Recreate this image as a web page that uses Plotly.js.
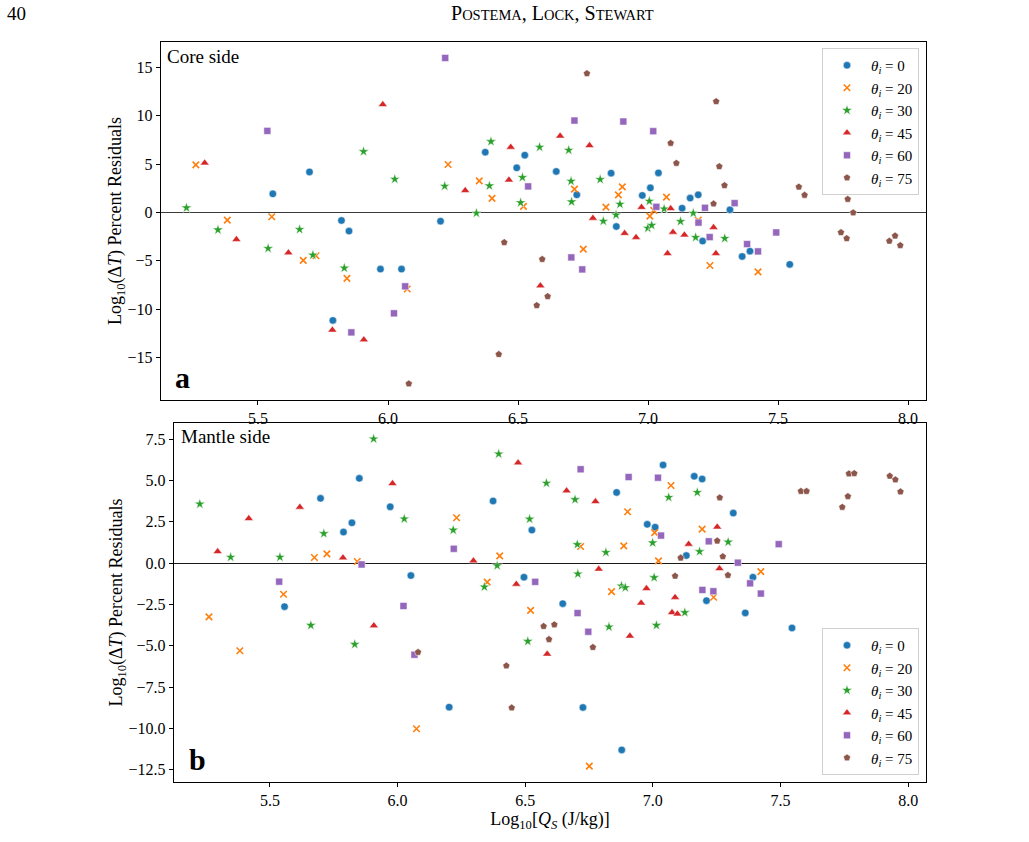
<!DOCTYPE html>
<html>
<head>
<meta charset="utf-8">
<script src="https://cdn.plot.ly/plotly-3.0.1.min.js"></script>
<style>
  html, body { margin: 0; padding: 0; background: #fff; }
  #chart { width: 1029px; height: 842px; }
  /* keep every tick label in the serif face */
  #chart g.xtick text, #chart g.ytick text, #chart g.x2tick text, #chart g.y2tick text {
    font-family: 'Liberation Serif', serif !important;
  }
</style>
</head>
<body>
<div id="chart"></div>
<script>
// Log10 specific energy Q_S for each impact angle (shared by both panels)
const qs0  = [5.557, 5.698, 5.788, 5.821, 5.850, 5.971, 6.052, 6.202, 6.374, 6.495, 6.526, 6.647, 6.726, 6.858, 6.878, 6.978, 7.009, 7.040, 7.131, 7.162, 7.193, 7.210, 7.315, 7.362, 7.392, 7.545];
const qs20 = [5.261, 5.382, 5.553, 5.674, 5.723, 5.842, 6.074, 6.231, 6.351, 6.400, 6.521, 6.717, 6.751, 6.838, 6.886, 6.901, 7.007, 7.022, 7.071, 7.193, 7.238, 7.423];
const qs30 = [5.225, 5.346, 5.539, 5.660, 5.711, 5.832, 5.906, 6.026, 6.218, 6.340, 6.390, 6.396, 6.510, 6.517, 6.583, 6.695, 6.704, 6.706, 6.816, 6.828, 6.877, 6.892, 6.999, 7.005, 7.014, 7.062, 7.125, 7.174, 7.183, 7.295];
const qs45 = [5.295, 5.417, 5.617, 5.786, 5.907, 5.980, 6.297, 6.465, 6.472, 6.586, 6.662, 6.775, 6.788, 6.910, 6.954, 6.975, 7.075, 7.087, 7.096, 7.140, 7.252, 7.261];
const qs60 = [5.536, 5.859, 6.023, 6.066, 6.220, 6.539, 6.705, 6.717, 6.747, 6.905, 7.020, 7.032, 7.194, 7.219, 7.237, 7.333, 7.381, 7.423, 7.493];
const qs75 = [6.080, 6.426, 6.447, 6.572, 6.593, 6.614, 6.765, 7.087, 7.109, 7.252, 7.262, 7.274, 7.294, 7.580, 7.602, 7.742, 7.764, 7.768, 7.789, 7.928, 7.950, 7.970];

// Core-side percent residuals
const core0  = [1.92, 4.19, -11.16, -0.83, -1.93, -5.86, -5.86, -0.90, 6.23, 4.61, 5.92, 4.24, 1.82, 4.06, -1.45, 1.76, 2.54, 4.09, 0.44, 1.48, 1.82, -2.96, 0.27, -4.55, -4.00, -5.37];
const core20 = [4.92, -0.80, -0.45, -4.96, -4.48, -6.82, -7.92, 4.96, 3.26, 1.45, 0.62, 2.41, -3.79, 0.55, 1.82, 2.64, -0.38, 0.21, 1.58, -0.80, -5.48, -6.14];
const core30 = [0.48, -1.80, -3.72, -1.76, -4.41, -5.75, 6.30, 3.44, 2.72, -0.07, 2.75, 7.33, 1.01, 3.62, 6.75, 6.44, 3.23, 1.10, 3.41, -0.90, -0.26, 0.86, -1.62, 1.17, -1.33, 0.37, -0.93, -0.07, -2.58, -2.68];
const core45 = [5.12, -2.79, -4.17, -12.16, -13.16, 11.16, 2.27, 3.36, 6.75, -7.58, 7.90, 6.92, -0.59, -2.16, -2.58, 0.53, -4.24, 0.40, -2.04, -2.32, -1.55, -4.24];
const core60 = [8.43, -12.40, -10.43, -7.64, 15.97, 2.69, -4.65, 9.50, -5.89, 9.40, 8.40, 0.58, -1.05, 0.48, -2.55, 0.96, -3.27, -4.03, -2.07];
const core75 = [-17.71, -14.67, -3.10, -9.61, -4.84, -8.68, 14.36, 7.16, 5.09, 0.89, 11.47, 4.75, 2.79, 2.64, 1.79, -2.07, -2.69, 1.37, -0.02, -2.96, -2.42, -3.41];

// Mantle-side percent residuals
const mantle0  = [-2.63, 3.92, 1.88, 2.44, 5.13, 3.41, -0.75, -8.71, 3.76, -0.85, 2.00, -2.45, -8.73, 4.28, -11.30, 2.35, 2.18, 5.94, 0.46, 5.26, 5.09, -2.27, 3.03, -3.01, -0.85, -3.92];
const mantle20 = [-3.25, -5.30, -1.88, 0.34, 0.56, 0.10, -10.02, 2.75, -1.15, 0.44, -2.86, 1.01, -12.28, -1.72, 1.05, 3.11, 1.85, 0.14, 4.70, 2.06, -2.06, -0.51];
const mantle30 = [3.58, 0.36, 0.36, -3.76, 1.79, -4.91, 7.52, 2.68, 2.00, -1.44, -0.15, 6.61, -4.73, 2.67, 4.84, 3.85, 1.13, -0.65, 0.65, -3.86, -1.38, -1.48, 1.23, -0.87, -3.76, 3.98, -2.99, 4.28, 0.70, 1.28];
const mantle45 = [0.70, 2.70, 3.39, 0.32, -3.78, 4.82, 0.14, -1.27, 6.07, -5.50, 4.38, 3.73, -0.36, -4.41, -2.41, -1.53, -2.99, -2.07, -3.07, 1.15, 2.19, -0.33];
const mantle60 = [-1.12, -0.08, -2.59, -5.54, 0.87, -1.13, -3.02, 5.68, -4.15, 5.21, 5.17, 1.67, -1.62, 1.32, -1.70, 0.03, -1.22, -1.84, 1.15];
const mantle75 = [-5.39, -6.21, -8.75, -3.82, -4.61, -3.72, -5.09, -0.78, 0.32, 1.35, 3.96, 0.40, -0.73, 4.35, 4.35, 3.39, 4.04, 5.41, 5.43, 5.27, 5.05, 4.32];

const angles = [0, 20, 30, 45, 60, 75];
const qsByAngle = [qs0, qs20, qs30, qs45, qs60, qs75];
const coreByAngle = [core0, core20, core30, core45, core60, core75];
const mantleByAngle = [mantle0, mantle20, mantle30, mantle45, mantle60, mantle75];

const tickVals = [5.5, 6.0, 6.5, 7.0, 7.5, 8.0];
const tickText = ['5.5', '6.0', '6.5', '7.0', '7.5', '8.0'];
const coreTickVals = [-15, -10, -5, 0, 5, 10, 15];
const mantleTickVals = [-12.5, -10, -7.5, -5, -2.5, 0, 2.5, 5, 7.5];

const colors  = ['#1f77b4', '#ff7f0e', '#2ca02c', '#d62728', '#9467bd', '#8c564b'];
const symbols = ['circle', 'x-thin', 'star', 'triangle-up', 'square', 'pentagon'];
const sizes   = [7.5, 6.5, 8, 8, 7, 7.5];

const W = 1029, H = 842;
const fx = px => px / W;
const fy = py => 1 - py / H;

const SERIF = 'Liberation Serif';

function markerFor(i) {
  if (symbols[i] === 'x-thin') {
    return { symbol: symbols[i], size: sizes[i], color: colors[i], line: { color: colors[i], width: 1.6 } };
  }
  return { symbol: symbols[i], size: sizes[i], color: colors[i], line: { color: 'rgba(255,255,255,0.85)', width: 0.6 } };
}

const traces = [];
angles.forEach((a, i) => {
  traces.push({
    type: 'scatter', mode: 'markers', name: '<i>θ</i><sub><i>i</i></sub> = ' + a,
    x: qsByAngle[i], y: coreByAngle[i],
    xaxis: 'x', yaxis: 'y', legend: 'legend',
    marker: markerFor(i)
  });
});
angles.forEach((a, i) => {
  traces.push({
    type: 'scatter', mode: 'markers', name: '<i>θ</i><sub><i>i</i></sub> = ' + a,
    x: qsByAngle[i], y: mantleByAngle[i],
    xaxis: 'x2', yaxis: 'y2', legend: 'legend2',
    marker: markerFor(i)
  });
});

function axisBase() {
  return {
    showline: true, mirror: true, linecolor: '#000', linewidth: 1.2,
    ticks: 'outside', ticklen: 4, tickwidth: 1, tickcolor: '#000',
    showgrid: false, zeroline: false,
    tickfont: { family: SERIF, size: 16, color: '#000' }
  };
}

const yTitle = 'Log<sub>10</sub>(Δ<i>T</i>) Percent Residuals';

function legendBase() {
  return {
    font: { family: SERIF, size: 15, color: '#000' },
    bgcolor: 'rgba(255,255,255,0.85)', bordercolor: '#d0d0d0', borderwidth: 1,
    xanchor: 'right', tracegroupgap: 0, itemwidth: 38
  };
}

const layout = {
  width: W, height: H,
  margin: { l: 0, r: 0, t: 0, b: 0 },
  paper_bgcolor: '#fff', plot_bgcolor: '#fff',
  font: { family: SERIF, color: '#000', size: 16 },
  showlegend: true,
  xaxis: Object.assign(axisBase(), {
    domain: [fx(161), fx(926)], anchor: 'y',
    range: [5.127, 8.069], tickvals: tickVals, ticktext: tickText
  }),
  yaxis: Object.assign(axisBase(), {
    domain: [fy(400), fy(42)], anchor: 'x',
    range: [-19.39, 17.62], tickvals: coreTickVals,
    zeroline: true, zerolinecolor: '#3c3c3c', zerolinewidth: 1.2,
    title: { text: yTitle, font: { family: SERIF, size: 18, color: '#000' }, standoff: 1 }
  }),
  xaxis2: Object.assign(axisBase(), {
    domain: [fx(174), fx(926)], anchor: 'y2',
    range: [5.124, 8.07], tickvals: tickVals, ticktext: tickText,
    title: { text: 'Log<sub>10</sub>[<i>Q<sub>S</sub></i> (J/kg)]', font: { family: SERIF, size: 18, color: '#000' }, standoff: 1 }
  }),
  yaxis2: Object.assign(axisBase(), {
    domain: [fy(782), fy(423)], anchor: 'x2',
    range: [-13.24, 8.48], tickvals: mantleTickVals, tickformat: '.1f',
    zeroline: true, zerolinecolor: '#1a1a1a', zerolinewidth: 1.2,
    title: { text: yTitle, font: { family: SERIF, size: 18, color: '#000' }, standoff: 1 }
  }),
  legend: Object.assign(legendBase(), { x: fx(919), y: fy(48), yanchor: 'top' }),
  legend2: Object.assign(legendBase(), { x: fx(919), y: fy(775), yanchor: 'bottom' }),
  annotations: [
    { text: '40', xref: 'paper', yref: 'paper', x: fx(5), y: fy(13), xanchor: 'left', yanchor: 'middle',
      showarrow: false, font: { family: SERIF, size: 19, color: '#000' } },
    { text: 'P<span style="font-size:14.5px">OSTEMA</span>, L<span style="font-size:14.5px">OCK</span>, S<span style="font-size:14.5px">TEWART</span>',
      xref: 'paper', yref: 'paper', x: fx(552), y: fy(13), xanchor: 'center', yanchor: 'middle',
      showarrow: false, font: { family: SERIF, size: 20, color: '#000' } },
    { text: 'Core side', xref: 'paper', yref: 'paper', x: fx(165), y: fy(56), xanchor: 'left', yanchor: 'middle',
      showarrow: false, font: { family: SERIF, size: 19, color: '#000' } },
    { text: '<b>a</b>', xref: 'paper', yref: 'paper', x: fx(173), y: fy(378), xanchor: 'left', yanchor: 'middle',
      showarrow: false, font: { family: SERIF, size: 30, color: '#000' } },
    { text: 'Mantle side', xref: 'paper', yref: 'paper', x: fx(179), y: fy(437), xanchor: 'left', yanchor: 'middle',
      showarrow: false, font: { family: SERIF, size: 19, color: '#000' } },
    { text: '<b>b</b>', xref: 'paper', yref: 'paper', x: fx(187), y: fy(759), xanchor: 'left', yanchor: 'middle',
      showarrow: false, font: { family: SERIF, size: 30, color: '#000' } }
  ]
};

Plotly.newPlot('chart', traces, layout, { displayModeBar: false, staticPlot: true });
</script>
</body>
</html>
